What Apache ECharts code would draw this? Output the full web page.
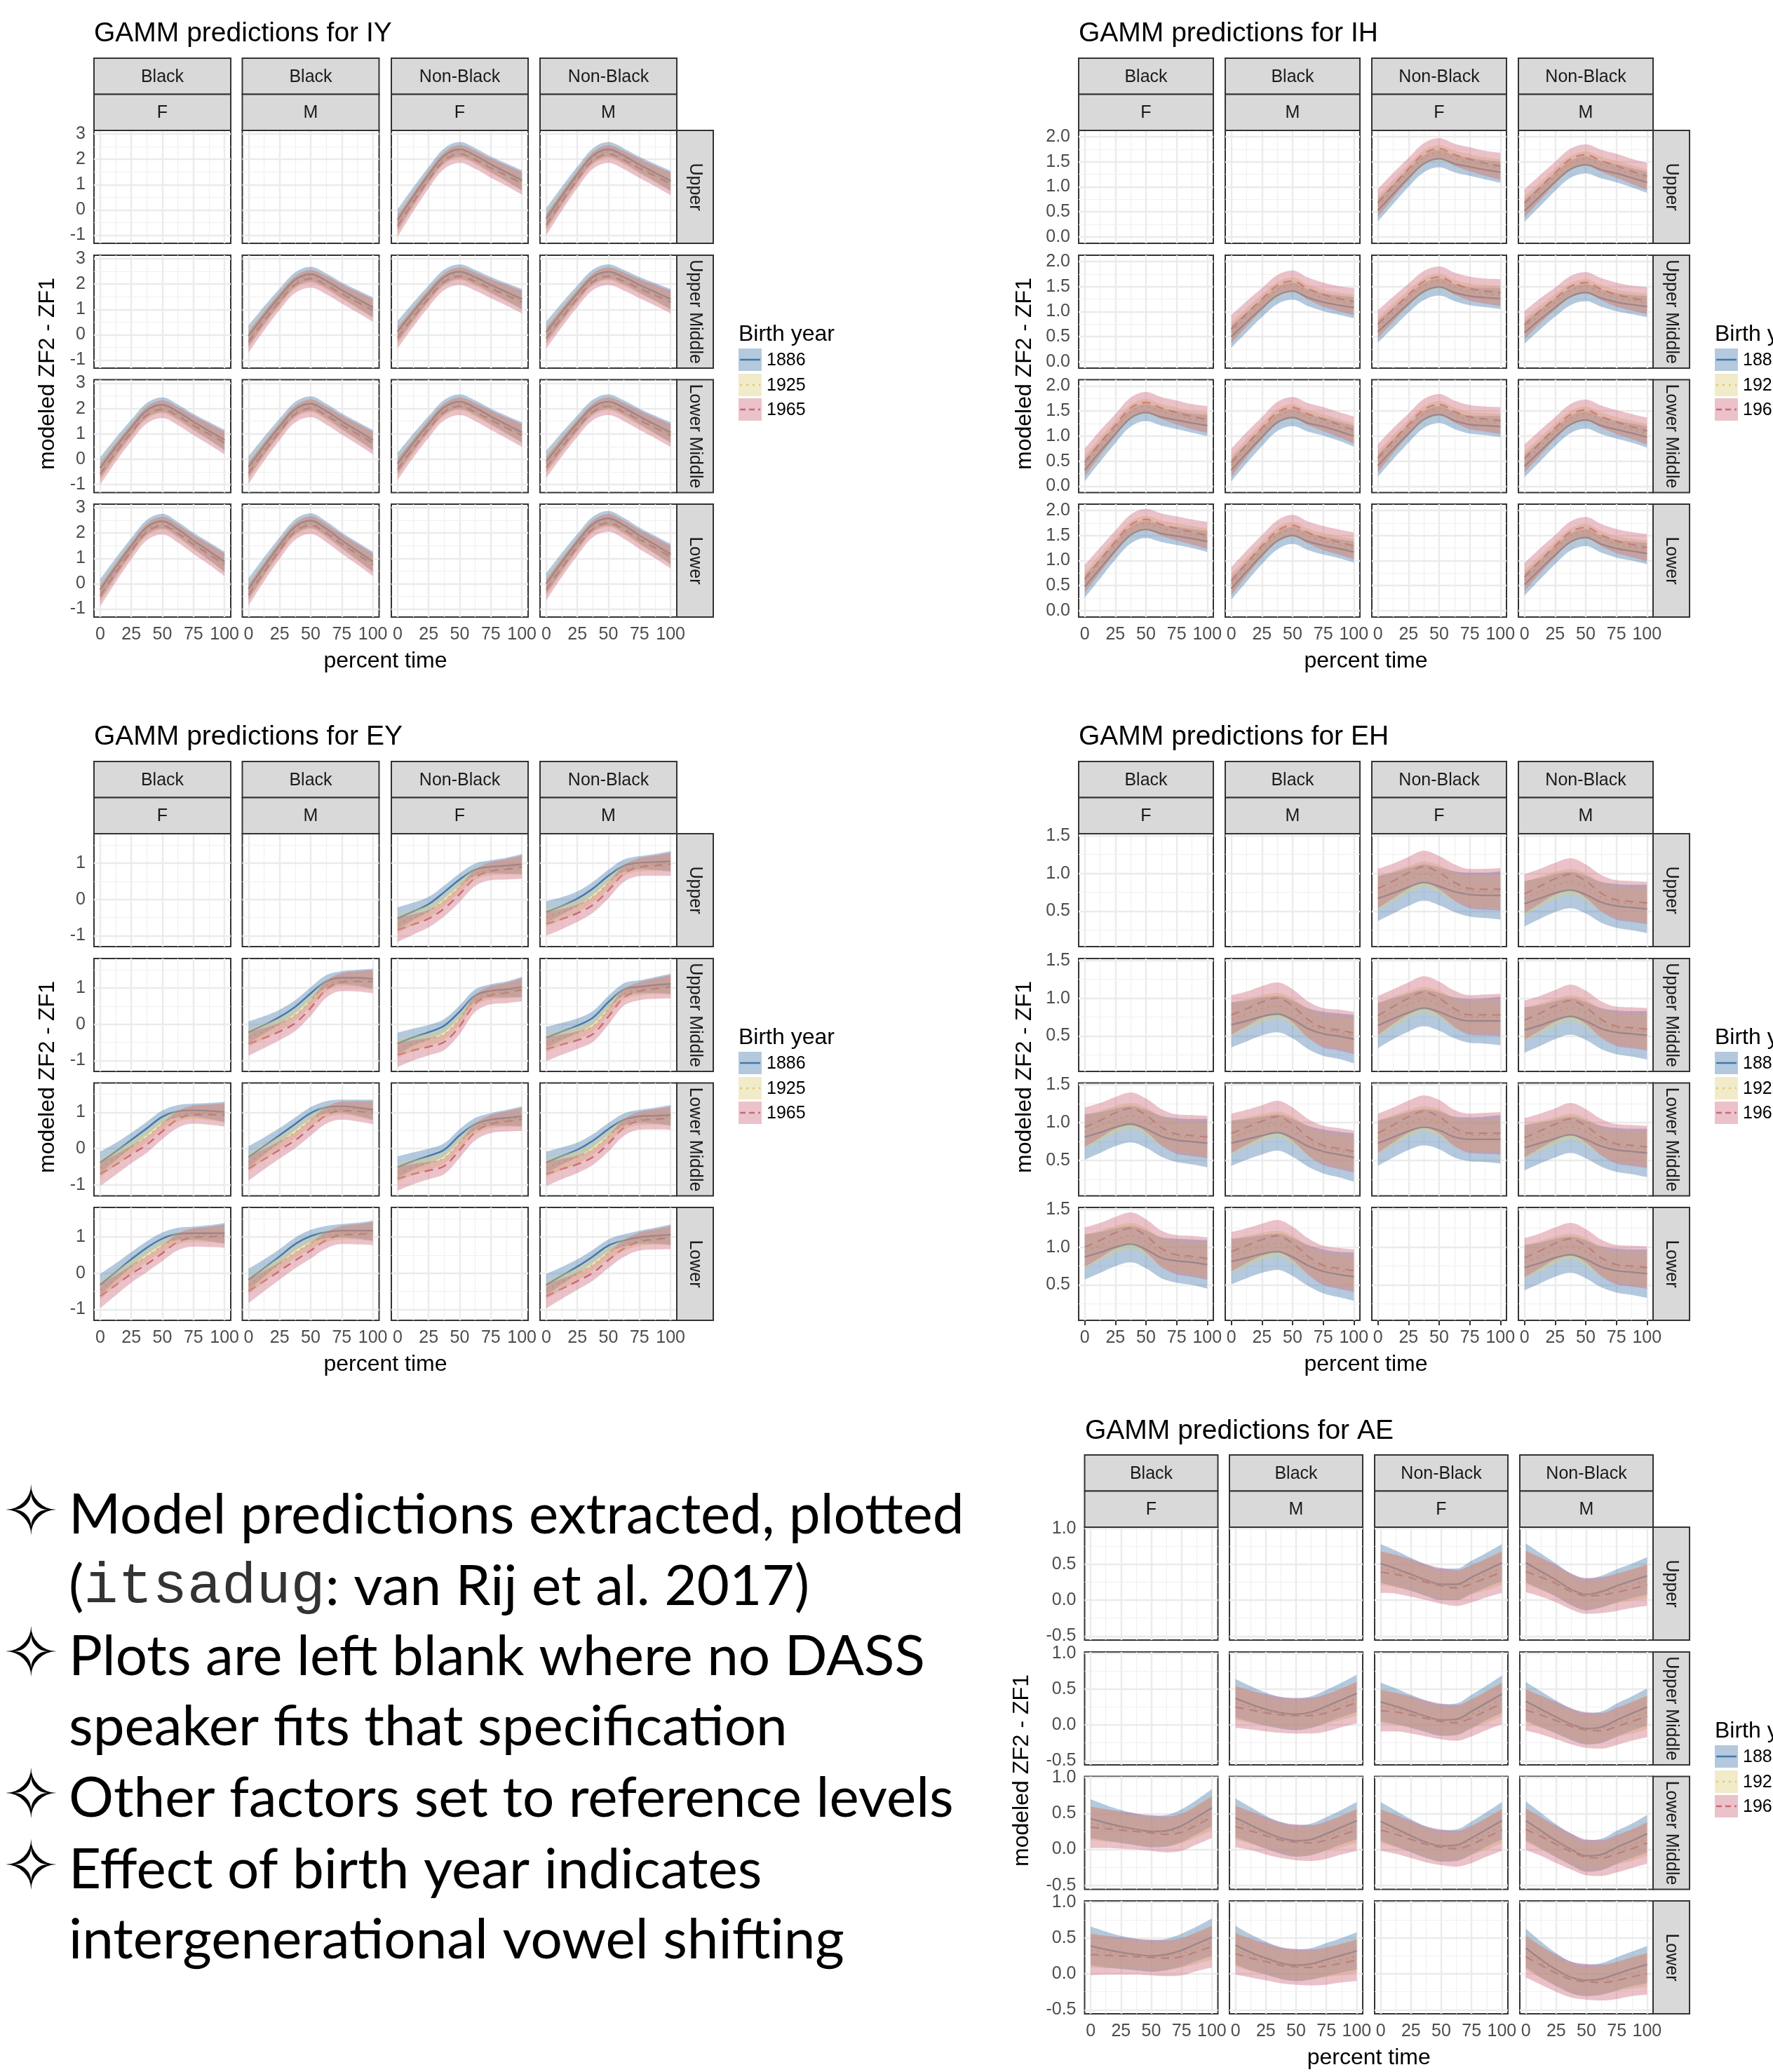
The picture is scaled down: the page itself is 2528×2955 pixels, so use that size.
<!DOCTYPE html>
<html><head><meta charset="utf-8">
<script src="https://cdn.jsdelivr.net/npm/echarts@6/dist/echarts.min.js"></script>
<style>html,body{margin:0;padding:0;background:#fff;}#c{width:2528px;height:2955px;}</style>
</head><body><div id="c"></div>
<script>
// ---------------- DATA ----------------
const xPct = [0, 12.5, 25, 37.5, 50, 62.5, 75, 87.5, 100];
const xMajor = [0, 25, 50, 75, 100];
const xMinor = [12.5, 37.5, 62.5, 87.5];
const rowLabels = ['Upper', 'Upper Middle', 'Lower Middle', 'Lower'];
const raceLabels = ['Black', 'Black', 'Non-Black', 'Non-Black'];
const sexLabels = ['F', 'M', 'F', 'M'];
const birthYears = ['1886', '1925', '1965'];

// IY
const iyRange = [-1.32, 3.14];
const iyTicks = [-1, 0, 1, 2, 3];
const iyMinor = [-0.5, 0.5, 1.5, 2.5];
const iyMean1886 = [
  [null, null, [-0.40,0.52,1.39,2.14,2.39,2.15,1.80,1.49,1.17], [-0.35,0.55,1.40,2.14,2.39,2.14,1.79,1.47,1.15]],
  [null, [-0.05,0.76,1.51,2.17,2.39,2.13,1.76,1.42,1.08], [0.12,0.90,1.64,2.28,2.49,2.27,1.97,1.69,1.41], [0.10,0.89,1.63,2.28,2.49,2.27,1.97,1.69,1.41]],
  [[-0.35,0.48,1.25,1.93,2.15,1.87,1.48,1.12,0.76], [-0.31,0.52,1.29,1.97,2.19,1.90,1.50,1.13,0.76], [-0.17,0.64,1.39,2.05,2.27,2.03,1.69,1.37,1.06], [-0.09,0.69,1.42,2.06,2.27,2.03,1.69,1.37,1.06]],
  [[-0.24,0.65,1.49,2.23,2.47,2.15,1.70,1.29,0.87], [-0.21,0.68,1.52,2.25,2.49,2.17,1.71,1.29,0.87], null, [0.00,0.85,1.65,2.35,2.58,2.30,1.90,1.54,1.17]]
];
const iyShift1925 = [-0.12,-0.11,-0.10,-0.10,-0.09,-0.09,-0.08,-0.07,-0.06];
const iyShift1965 = [-0.24,-0.22,-0.20,-0.19,-0.18,-0.17,-0.15,-0.13,-0.12];
const iyHalf1886 = [0.42,0.36,0.31,0.29,0.29,0.29,0.31,0.35,0.40];
const iyHalf1925 = [0.36,0.31,0.27,0.25,0.25,0.26,0.27,0.30,0.34];
const iyHalf1965 = [0.42,0.37,0.34,0.33,0.35,0.36,0.38,0.41,0.45];

// IH
const ihRange = [-0.127, 2.125];
const ihTicks = [0, 0.5, 1, 1.5, 2];
const ihMinor = [0.25, 0.75, 1.25, 1.75];
const ihMean1886 = [
  [null, null, [0.53,0.86,1.18,1.46,1.56,1.46,1.40,1.34,1.29], [0.52,0.81,1.10,1.35,1.44,1.34,1.27,1.18,1.09]],
  [null, [0.50,0.79,1.07,1.32,1.41,1.28,1.19,1.13,1.08], [0.60,0.88,1.16,1.40,1.49,1.38,1.31,1.28,1.26], [0.58,0.84,1.08,1.30,1.38,1.27,1.19,1.14,1.10]],
  [[0.32,0.69,1.04,1.36,1.47,1.38,1.32,1.26,1.21], [0.32,0.66,0.98,1.27,1.37,1.26,1.19,1.10,1.00], [0.41,0.74,1.05,1.33,1.43,1.31,1.23,1.21,1.19], [0.40,0.69,0.98,1.23,1.32,1.21,1.13,1.06,0.98]],
  [[0.48,0.84,1.20,1.51,1.62,1.54,1.49,1.44,1.38], [0.44,0.78,1.11,1.39,1.50,1.38,1.30,1.24,1.17], null, [0.52,0.82,1.11,1.37,1.46,1.33,1.24,1.19,1.14]]
];
const ihShift1925 = [0.09,0.10,0.11,0.12,0.12,0.11,0.09,0.08,0.07];
const ihShift1965 = [0.15,0.17,0.18,0.20,0.20,0.18,0.15,0.13,0.12];
const ihHalf1886 = [0.22,0.20,0.18,0.17,0.17,0.17,0.18,0.19,0.21];
const ihHalf1925 = [0.20,0.18,0.16,0.15,0.15,0.15,0.16,0.17,0.19];
const ihHalf1965 = [0.28,0.25,0.22,0.21,0.21,0.22,0.24,0.25,0.27];

// EY
const eyRange = [-1.30, 1.81];
const eyTicks = [-1, 0, 1];
const eyMinor = [-0.5, 0.5, 1.5];
const eyMean1886 = [
  [null, null, [-0.52,-0.33,-0.13,0.20,0.55,0.82,0.90,0.93,0.97], [-0.35,-0.18,0.02,0.30,0.65,0.93,1.01,1.03,1.05]],
  [null, [-0.22,-0.02,0.20,0.48,0.85,1.18,1.28,1.28,1.25], [-0.53,-0.36,-0.22,-0.04,0.35,0.79,0.92,0.96,1.03], [-0.37,-0.20,-0.04,0.18,0.61,0.96,1.03,1.08,1.11]],
  [[-0.38,-0.08,0.24,0.56,0.88,1.03,1.06,1.04,1.01], [-0.23,0.07,0.37,0.68,0.98,1.14,1.17,1.13,1.07], [-0.51,-0.34,-0.20,-0.03,0.37,0.68,0.80,0.85,0.89], [-0.38,-0.20,-0.03,0.22,0.54,0.80,0.89,0.91,0.92]],
  [[-0.32,0.03,0.38,0.70,0.95,1.08,1.10,1.10,1.10], [-0.18,0.14,0.46,0.80,1.02,1.13,1.17,1.17,1.17], null, [-0.32,-0.07,0.18,0.46,0.76,0.90,0.99,1.03,1.06]]
];
const eyShift1925 = [-0.15,-0.17,-0.20,-0.22,-0.20,-0.12,-0.07,-0.05,-0.04];
const eyShift1965 = [-0.32,-0.36,-0.40,-0.45,-0.40,-0.22,-0.12,-0.10,-0.08];
const eyHalf1886 = [0.30,0.24,0.20,0.18,0.17,0.17,0.18,0.22,0.28];
const eyHalf1925 = [0.26,0.21,0.18,0.16,0.16,0.16,0.17,0.20,0.25];
const eyHalf1965 = [0.33,0.28,0.24,0.22,0.22,0.23,0.25,0.28,0.32];

// EH
const ehRange = [0.033, 1.525];
const ehTicks = [0.5, 1, 1.5];
const ehMinor = [0.25, 0.75, 1.25];
const ehMean1886 = [
  [null, null, [0.67,0.74,0.82,0.88,0.83,0.76,0.72,0.71,0.71], [0.60,0.67,0.74,0.78,0.72,0.62,0.57,0.55,0.53]],
  [null, [0.65,0.70,0.76,0.79,0.72,0.60,0.53,0.50,0.46], [0.64,0.73,0.81,0.87,0.82,0.74,0.70,0.70,0.70], [0.58,0.64,0.71,0.76,0.70,0.60,0.55,0.53,0.51]],
  [[0.81,0.87,0.94,0.98,0.92,0.82,0.77,0.75,0.73], [0.73,0.78,0.83,0.87,0.80,0.69,0.62,0.58,0.54], [0.73,0.81,0.89,0.94,0.90,0.81,0.78,0.78,0.78], [0.67,0.73,0.79,0.84,0.78,0.69,0.64,0.62,0.60]],
  [[0.87,0.93,1.00,1.04,0.97,0.86,0.82,0.80,0.77], [0.81,0.86,0.91,0.94,0.87,0.76,0.68,0.64,0.61], null, [0.73,0.79,0.86,0.90,0.84,0.74,0.69,0.67,0.65]]
];
const ehShift1925 = [0.07,0.09,0.10,0.11,0.10,0.07,0.05,0.05,0.05];
const ehShift1965 = [0.13,0.16,0.19,0.21,0.18,0.12,0.08,0.08,0.08];
const ehHalf1886 = [0.30,0.27,0.25,0.24,0.25,0.27,0.29,0.30,0.32];
const ehHalf1925 = [0.22,0.20,0.18,0.17,0.18,0.19,0.20,0.21,0.22];
const ehHalf1965 = [0.26,0.23,0.21,0.21,0.22,0.24,0.26,0.27,0.28];

// AE
const aeRange = [-0.556, 1.017];
const aeTicks = [-0.5, 0, 0.5, 1];
const aeMinor = [-0.25, 0.25, 0.75];
const aeMean1886 = [
  [null, null, [0.51,0.44,0.36,0.28,0.22,0.22,0.32,0.42,0.52], [0.52,0.40,0.28,0.15,0.08,0.12,0.20,0.27,0.34]],
  [null, [0.37,0.29,0.22,0.17,0.15,0.18,0.26,0.35,0.44], [0.32,0.26,0.19,0.12,0.07,0.08,0.19,0.31,0.43], [0.33,0.22,0.11,0.01,-0.05,-0.03,0.07,0.16,0.25]],
  [[0.43,0.37,0.32,0.28,0.25,0.26,0.33,0.45,0.58], [0.44,0.34,0.24,0.16,0.12,0.14,0.22,0.31,0.40], [0.39,0.29,0.19,0.10,0.05,0.06,0.16,0.28,0.40], [0.40,0.26,0.12,0.00,-0.09,-0.07,0.03,0.12,0.22]],
  [[0.39,0.34,0.30,0.27,0.25,0.27,0.33,0.42,0.51], [0.40,0.30,0.22,0.15,0.12,0.14,0.20,0.26,0.32], null, [0.36,0.20,0.06,-0.05,-0.09,-0.07,0.00,0.07,0.13]]
];
const aeShift1925 = [-0.06,-0.04,-0.02,-0.01,-0.01,-0.02,-0.04,-0.06,-0.07];
const aeShift1965 = [-0.12,-0.08,-0.05,-0.03,-0.02,-0.05,-0.09,-0.11,-0.13];
const aeHalf1886 = [0.27,0.25,0.23,0.22,0.22,0.22,0.23,0.24,0.26];
const aeHalf1925 = [0.24,0.22,0.20,0.19,0.19,0.19,0.20,0.22,0.24];
const aeHalf1965 = [0.29,0.27,0.26,0.25,0.25,0.25,0.26,0.27,0.29];

const bulletLines = [
  {star: true, text: 'Model predictions extracted, plotted'},
  {star: false, text: '({m|itsadug}: van Rij et al. 2017)'},
  {star: true, text: 'Plots are left blank where no DASS'},
  {star: false, text: 'speaker fits that specification'},
  {star: true, text: 'Other factors set to reference levels'},
  {star: true, text: 'Effect of birth year indicates'},
  {star: false, text: 'intergenerational vowel shifting'}
];

// ---------------- LAYOUT / STYLE ----------------
const FONT = '"Liberation Sans", Arial, Helvetica, sans-serif';
const YEAR_COLORS = ['#4477AA', '#DDCC77', '#CC6677'];
const YEAR_FILLS = ['rgba(68,119,170,0.4)', 'rgba(221,204,119,0.4)', 'rgba(204,102,119,0.4)'];
const YEAR_DASH = ['solid', [3, 6], [12, 8]];
const ROW_H = 161;
const LAYOUTS = {
  IY: {colLeft:[134,345.5,558,770], colW:195, rowTop:[186,364,541.5,719], titleX:134, titleY:48, yTitleX:68},
  IH: {colLeft:[1538,1747,1956,2165], colW:192, rowTop:[186,364,541.5,719], titleX:1538, titleY:48, yTitleX:1461},
  EY: {colLeft:[134,345.5,558,770], colW:195, rowTop:[1189,1367,1544.5,1722], titleX:134, titleY:1051, yTitleX:68},
  EH: {colLeft:[1538,1747,1956,2165], colW:192, rowTop:[1189,1367,1544.5,1722], titleX:1538, titleY:1051, yTitleX:1461},
  AE: {colLeft:[1546.5,1753,1960,2167], colW:190, rowTop:[2178,2356,2533.5,2711], titleX:1547, titleY:2041, yTitleX:1457}
};

const VOWELS = [
  {key:'IY', mean:iyMean1886, shift:[null, iyShift1925, iyShift1965], half:[iyHalf1886, iyHalf1925, iyHalf1965], range:iyRange, ticks:iyTicks, minor:iyMinor, dec:0},
  {key:'IH', mean:ihMean1886, shift:[null, ihShift1925, ihShift1965], half:[ihHalf1886, ihHalf1925, ihHalf1965], range:ihRange, ticks:ihTicks, minor:ihMinor, dec:1},
  {key:'EY', mean:eyMean1886, shift:[null, eyShift1925, eyShift1965], half:[eyHalf1886, eyHalf1925, eyHalf1965], range:eyRange, ticks:eyTicks, minor:eyMinor, dec:0},
  {key:'EH', mean:ehMean1886, shift:[null, ehShift1925, ehShift1965], half:[ehHalf1886, ehHalf1925, ehHalf1965], range:ehRange, ticks:ehTicks, minor:ehMinor, dec:1},
  {key:'AE', mean:aeMean1886, shift:[null, aeShift1925, aeShift1965], half:[aeHalf1886, aeHalf1925, aeHalf1965], range:aeRange, ticks:aeTicks, minor:aeMinor, dec:1}
];

// ---------------- BUILD ----------------
const grids = [], xAxes = [], yAxes = [], series = [], graphics = [];
let g = 0;

function txt(x, y, text, size, opts) {
  opts = opts || {};
  return {
    type: 'text', x: x, y: y, rotation: opts.rotation || 0, silent: true, z: 100,
    style: {
      text: text, fontSize: size, fontFamily: opts.font || FONT, fill: opts.fill || '#000',
      align: opts.align || 'left', verticalAlign: opts.va || 'middle',
      textAlign: opts.align || 'left', textVerticalAlign: opts.va || 'middle',
      rich: opts.rich
    }
  };
}

VOWELS.forEach(function (V) {
  const L = LAYOUTS[V.key];
  const right = L.colLeft[3] + L.colW;
  const top0 = L.rowTop[0];
  const bottom = L.rowTop[3] + ROW_H;

  graphics.push(txt(L.titleX, L.titleY, 'GAMM predictions for ' + V.key, 39));
  for (let c = 0; c < 4; c++) {
    const x0 = L.colLeft[c];
    graphics.push({type:'rect', silent:true, z:90, shape:{x:x0, y:top0-103, width:L.colW, height:51.5}, style:{fill:'#D9D9D9', stroke:'#333', lineWidth:2}});
    graphics.push({type:'rect', silent:true, z:90, shape:{x:x0, y:top0-51.5, width:L.colW, height:51.5}, style:{fill:'#D9D9D9', stroke:'#333', lineWidth:2}});
    graphics.push(txt(x0 + L.colW/2, top0-76, raceLabels[c], 25, {align:'center', fill:'#1A1A1A'}));
    graphics.push(txt(x0 + L.colW/2, top0-24.5, sexLabels[c], 25, {align:'center', fill:'#1A1A1A'}));
  }
  for (let r = 0; r < 4; r++) {
    graphics.push({type:'rect', silent:true, z:90, shape:{x:right, y:L.rowTop[r], width:52, height:ROW_H}, style:{fill:'#D9D9D9', stroke:'#333', lineWidth:2}});
    graphics.push(txt(right + 26, L.rowTop[r] + ROW_H/2, rowLabels[r], 25, {align:'center', fill:'#1A1A1A', rotation:-Math.PI/2}));
  }
  graphics.push(txt((L.colLeft[0] + right)/2, bottom + 63, 'percent time', 32, {align:'center'}));
  graphics.push(txt(L.yTitleX, (top0 + bottom)/2, 'modeled ZF2 - ZF1', 32, {align:'center', rotation:Math.PI/2}));
  const lx = right + 88;
  graphics.push(txt(lx, top0 + 291, 'Birth year', 32));
  [311, 347, 382].forEach(function (dy, k) {
    const ky = top0 + dy;
    graphics.push({type:'rect', silent:true, z:90, shape:{x:lx, y:ky, width:33, height:32}, style:{fill:YEAR_FILLS[k]}});
    graphics.push({type:'line', silent:true, z:91, shape:{x1:lx+2, y1:ky+16, x2:lx+31, y2:ky+16},
      style:{stroke:YEAR_COLORS[k], lineWidth:2.5, lineDash: k === 0 ? null : (k === 1 ? [3,6] : [8,5])}});
    graphics.push(txt(lx + 40, ky + 17, birthYears[k], 25));
  });

  for (let r = 0; r < 4; r++) {
    for (let c = 0; c < 4; c++) {
      grids.push({left:L.colLeft[c], top:L.rowTop[r], width:L.colW, height:ROW_H, show:true,
        backgroundColor:'#fff', borderColor:'#333', borderWidth:2, containLabel:false, outerBoundsMode:'none'});
      xAxes.push({gridIndex:g, type:'value', min:-5, max:105,
        axisLine:{show:false}, splitLine:{show:false},
        axisTick:{show:r === 3, customValues:xMajor, length:7, lineStyle:{color:'#333', width:2}},
        axisLabel:{show:r === 3, customValues:xMajor, color:'#4D4D4D', fontSize:25, fontFamily:FONT, margin:13}});
      const dec = V.dec;
      yAxes.push({gridIndex:g, type:'value', min:V.range[0], max:V.range[1],
        axisLine:{show:false}, splitLine:{show:false},
        axisTick:{show:c === 0, customValues:V.ticks, length:7, lineStyle:{color:'#333', width:2}},
        axisLabel:{show:c === 0, customValues:V.ticks, color:'#4D4D4D', fontSize:25, fontFamily:FONT, margin:12,
          formatter:function (v) { return Number(v).toFixed(dec); }}});
      const ml = [];
      xMajor.forEach(function (v) { ml.push({xAxis:v, lineStyle:{color:'#EBEBEB', width:2.4, type:'solid'}}); });
      xMinor.forEach(function (v) { ml.push({xAxis:v, lineStyle:{color:'#F0F0F0', width:1.2, type:'solid'}}); });
      V.ticks.forEach(function (v) { ml.push({yAxis:v, lineStyle:{color:'#EBEBEB', width:2.4, type:'solid'}}); });
      V.minor.forEach(function (v) { ml.push({yAxis:v, lineStyle:{color:'#F0F0F0', width:1.2, type:'solid'}}); });
      series.push({type:'line', xAxisIndex:g, yAxisIndex:g, data:[], silent:true, z:1,
        markLine:{silent:true, z:1, symbol:['none','none'], label:{show:false}, emphasis:{disabled:true},
          lineStyle:{type:'solid'}, animation:false, data:ml}});

      const m0 = V.mean[r][c];
      if (m0) {
        const means = [0,1,2].map(function (k) {
          return m0.map(function (v, i) { return k === 0 ? v : v + V.shift[k][i]; });
        });
        // lines (drawn under the ribbons)
        [0,1,2].forEach(function (k) {
          series.push({type:'line', xAxisIndex:g, yAxisIndex:g, silent:true, z:2, smooth:0.35,
            symbol:'none', showSymbol:false,
            lineStyle:{color:YEAR_COLORS[k], width:2.4, type:YEAR_DASH[k]},
            data:xPct.map(function (x, i) { return [x, means[k][i]]; })});
        });
        // ribbons: stacked on the y value (value stored first, x second)
        [0,1,2].forEach(function (k) {
          const st = 'rb' + g + '_' + k;
          series.push({type:'line', xAxisIndex:g, yAxisIndex:g, silent:true, z:3, smooth:0.35,
            stack:st, stackStrategy:'all', symbol:'none', showSymbol:false,
            encode:{x:1, y:0},
            lineStyle:{width:0, opacity:0},
            data:xPct.map(function (x, i) { return [means[k][i] - V.half[k][i], x]; })});
          series.push({type:'line', xAxisIndex:g, yAxisIndex:g, silent:true, z:3, smooth:0.35,
            stack:st, stackStrategy:'all', symbol:'none', showSymbol:false,
            encode:{x:1, y:0},
            lineStyle:{width:0, opacity:0},
            areaStyle:{color:YEAR_COLORS[k], opacity:0.4},
            data:xPct.map(function (x, i) { return [2 * V.half[k][i], x]; })});
        });
      }
      g++;
    }
  }
});

const BULLET_Y = [2161, 2263, 2363, 2463, 2565, 2667, 2767];
bulletLines.forEach(function (b, i) {
  if (b.star) graphics.push(txt(4, BULLET_Y[i] + 2, '\u2727', 96, {font:'"DejaVu Sans", sans-serif'}));
  graphics.push(txt(98, BULLET_Y[i], b.text, 80, {font:'Lato, "Open Sans", sans-serif',
    rich: {m: {fontFamily:'"Liberation Mono", "DejaVu Sans Mono", monospace', fontSize:82, fill:'#333'}}}));
});

const chart = echarts.init(document.getElementById('c'), null, {renderer:'canvas'});
chart.setOption({
  animation:false,
  backgroundColor:'#ffffff',
  grid:grids, xAxis:xAxes, yAxis:yAxes, series:series,
  graphic:{elements:graphics}
});
</script></body></html>
